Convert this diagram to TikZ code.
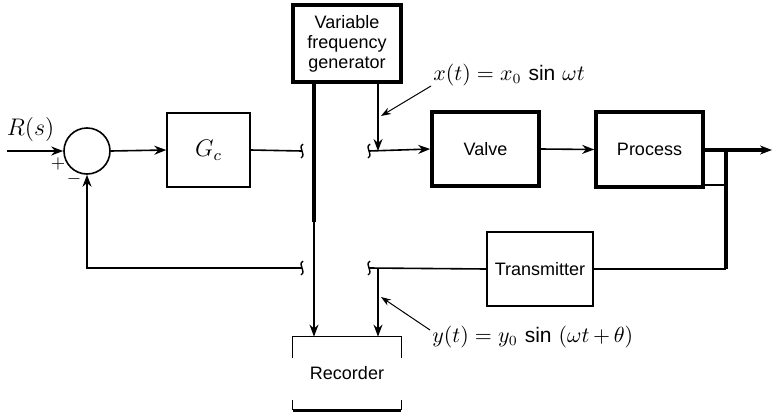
\documentclass[tikz,border=0pt]{standalone}
\usepackage{fontspec}
\setsansfont{Liberation Sans}
\usetikzlibrary{arrows.meta,calc}

\tikzset{
    thinbox/.style={draw, line width=0.7pt, font=\sffamily\fontsize{9}{10}\selectfont},
    thickbox/.style={draw, line width=1.8pt, font=\sffamily\fontsize{9}{10}\selectfont},
    sig/.style={line width=0.8pt},
    arr/.style={-{Stealth[length=6pt,width=4.5pt]}}
}

\begin{document}
\begin{tikzpicture}[x=0.5pt, y=-0.5pt]
                \useasboundingbox (0,0) rectangle (782,413);

                % Blocs
                \node[draw, circle, line width=0.8pt, minimum size=23pt, inner sep=0pt] (sum) at (87,151) {};
                \node[thinbox, minimum width=41.5pt, minimum height=37pt, font=\large] (gc) at (208.5,150) {$G_c$};
                \node[thickbox, minimum width=54pt, minimum height=38.5pt, align=center, inner sep=1pt] (gen) at (347,43.5)
                    {Variable\\frequency\\generator};
                \node[thickbox, minimum width=53.5pt, minimum height=37pt] (valve) at (485.5,149) {Valve};
                \node[thickbox, minimum width=53.5pt, minimum height=37.5pt] (process) at (649.5,149.5) {Process};
                \node[thinbox, minimum width=53pt, minimum height=37pt] (trans) at (540,269) {Transmitter};
                \node[font=\sffamily\fontsize{9}{10}\selectfont, minimum width=54pt, minimum height=36.5pt] (rec) at (347,373.5) {Recorder};

                % Recorder (cadre ouvert)
                \draw[line width=0.8pt] ($(rec.north west)+(0,21)$) -- (rec.north west) -- (rec.north east) -- ($(rec.north east)+(0,21)$);
                \draw[line width=0.8pt] ($(rec.south west)+(0,-10)$) -- (rec.south west);
                \draw[line width=0.8pt] ($(rec.south east)+(0,-10)$) -- (rec.south east);
                \draw[line width=1.8pt] (rec.south west) -- (rec.south east);

                % Points de coupure et de jonction
                \coordinate (in) at (7,151);
                \coordinate (brkA) at (302,151);
                \coordinate (brkB) at (369,151);
                \coordinate (brkC) at (302,268);
                \coordinate (brkD) at (369,268);
                \coordinate (xin) at (378,151);
                \coordinate (yout) at (378,268);
                \coordinate (gtap) at (314,222);
                \coordinate (node1) at (726,150);
                \coordinate (out) at (772,150);

                \foreach \p in {brkA, brkB, brkC, brkD} {
                    \draw[line width=0.7pt] ($(\p)+(1,-7)$) .. controls ($(\p)+(-5,-3)$) and ($(\p)+(5,3)$) .. ($(\p)+(-1,7)$);
                }

                % Chaine directe
                \draw[sig, arr] (in) -- (sum.west) node[pos=0.42, above=1pt, font=\large] {$R(s)$};
                \node (plus) at (58,164) {\small $+$};
                \node (minus) at (74,179) {\small $-$};
                \draw[sig, arr] (sum.east) -- (gc.west);
                \draw[sig] (gc.east) -- (brkA);
                \draw[sig, arr] (brkB) -- (valve.west);
                \draw[sig, arr] (valve.east) -- (process.west);
                \draw[line width=1.8pt, arr] (process.east |- node1) -- (out);
                \draw[line width=0.8pt] (process.east |- 0,185) -- (node1 |- 0,185);
                \draw[line width=1.8pt] (node1) -- (node1 |- trans.east);
                \draw[sig] (node1 |- trans.east) -- (trans.east);

                % Retour
                \draw[sig] (trans.west) -- (brkD);
                \draw[sig, arr] (brkC) -- (brkC -| sum) -- (sum.south);

                % Generateur et enregistreur
                \draw[line width=2.4pt] (gen.south -| gtap) -- (gtap);
                \draw[sig, arr] (gtap) -- (rec.north -| gtap);
                \draw[sig, arr] (gen.south -| xin) -- (xin);
                \draw[sig, arr] (yout) -- (rec.north -| yout);

                % Signaux
                \node[anchor=west, inner sep=0pt, font=\fontsize{10.5}{12}\selectfont] (xlbl) at (433,75) {$x(t) = x_0$ \textsf{sin} $\omega t$};
                \node[anchor=west, inner sep=0pt, font=\fontsize{10.5}{12}\selectfont] (ylbl) at (432,337) {$y(t) = y_0$ \textsf{sin} $(\omega t\,{+}\,\theta)$};
                \coordinate (xtip) at (381,116);
                \coordinate (ytip) at (381,297);
                \draw[line width=0.5pt, -{Stealth[length=5pt,width=3.5pt]}] (431,86) -- (xtip);
                \draw[line width=0.5pt, -{Stealth[length=5pt,width=3.5pt]}] (ylbl.west) ++(-2,-7) -- (ytip);
            \end{tikzpicture}
\end{document}
